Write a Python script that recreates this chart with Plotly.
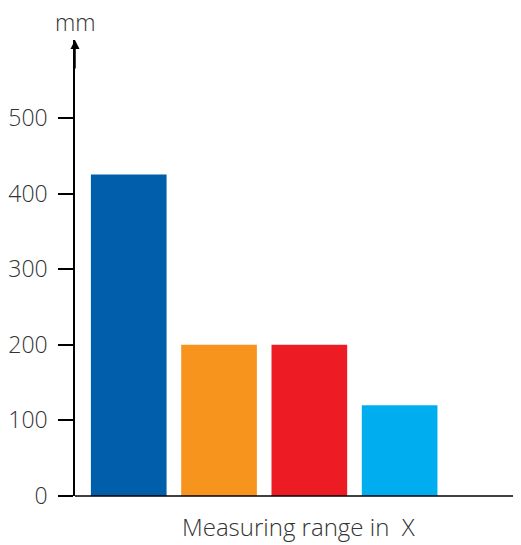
import plotly.graph_objects as go

# data
positions = [0, 1, 2, 3]
values = [425, 200, 200, 120]
colors = ['#005EAA', '#F7941E', '#ED1C24', '#00AEEF']
y_ticks = [0, 100, 200, 300, 400, 500]
y_unit = 'mm'
x_title = 'Measuring range in  X'

font_family = 'Open Sans, Noto Sans, sans-serif'
text_color = '#333333'

fig = go.Figure(go.Bar(
    x=positions,
    y=values,
    width=0.838,
    marker=dict(color=colors, line=dict(width=0)),
    showlegend=False
))

# the page body adds an 8px margin, so the figure is 8px smaller
fig.update_layout(
    width=513,
    height=537,
    margin=dict(l=63, r=0, t=32, b=49),
    plot_bgcolor='white',
    paper_bgcolor='white',
    font=dict(family=font_family, color=text_color, size=23, weight=300),
    xaxis=dict(
        range=[-0.595, 4.344],
        showticklabels=False,
        ticks='',
        showgrid=False,
        zeroline=False,
        showline=False
    ),
    yaxis=dict(
        range=[0, 603],
        tickvals=y_ticks,
        ticks='outside',
        ticklen=15,
        tickwidth=1.5,
        tickcolor='black',
        ticklabelstandoff=6,
        showgrid=False,
        zeroline=False,
        showline=True,
        linecolor='black',
        linewidth=1.5,
        tickfont=dict(size=23, color=text_color, weight=300)
    ),
    shapes=[
        # x axis line running out to the right edge
        dict(type='line', xref='paper', yref='paper', x0=0, x1=1.1, y0=0, y1=0,
             line=dict(color='black', width=1.5))
    ],
    annotations=[
        # arrow head on the y axis
        dict(x=0, y=1, xref='paper', yref='paper', text='',
             showarrow=True, arrowhead=2, arrowsize=1.2, arrowwidth=1.5,
             arrowcolor='black', ax=0, ay=30),
        dict(x=0, y=1, xref='paper', yref='paper', text=y_unit,
             showarrow=False, xanchor='center', yanchor='bottom', yshift=0,
             font=dict(size=23, color=text_color, weight=300)),
        dict(x=0.5, y=0, xref='paper', yref='paper', text=x_title,
             showarrow=False, xanchor='center', yanchor='top', yshift=-12,
             font=dict(size=24, color=text_color, weight=300)),
    ]
)

fig.write_html('out.html')
